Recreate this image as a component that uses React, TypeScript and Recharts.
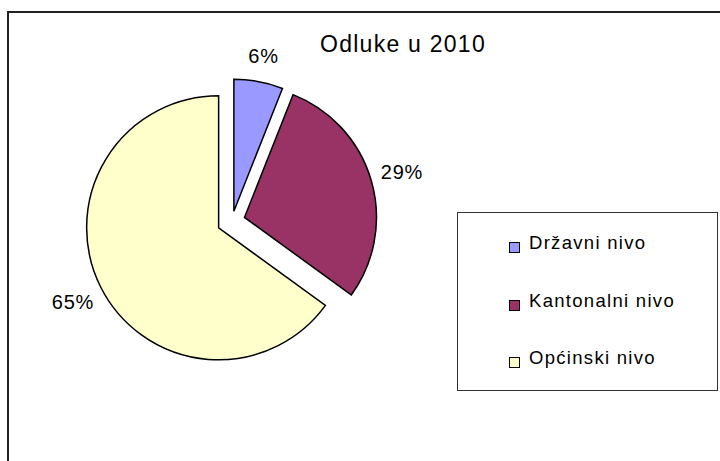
import React from 'react'
import { PieChart, Pie, Cell, Legend } from 'recharts'

const categories = ['Državni nivo', 'Kantonalni nivo', 'Općinski nivo']
const shares = [6, 29, 65]
const colors = ['#9999FF', '#993366', '#FFFFCC']
// how far each slice is pulled out of the pie (px)
const explode = [10, 13, 15]

const W = 720
const H = 461
const CX = 232
const CY = 221
const R = 132
const RADIAN = Math.PI / 180
const FONT = '"Liberation Sans", Arial, sans-serif'

const rows = categories.map((name, i) => ({ name, value: shares[i] }))
const total = shares.reduce((a, b) => a + b, 0)

// bisector of each slice, degrees clockwise from 12 o'clock
const bisector = (i: number) => {
  const before = shares.slice(0, i).reduce((a, b) => a + b, 0)
  return ((before + shares[i] / 2) / total) * 360
}

const makeLabel = (idx: number) => (p: any) => {
  if (p.index !== idx) return null
  const txt = `${Math.round(p.percent * 100)}%`
  const c = Math.cos(-p.midAngle * RADIAN)
  // push wide labels a bit further out when they sit to the side
  const r = p.outerRadius + 25 + 0.22 * txt.length * 11 * Math.abs(c)
  const x = p.cx + r * c
  const y = p.cy + r * Math.sin(-p.midAngle * RADIAN)
  return (
    <text
      x={x}
      y={y}
      textAnchor="middle"
      dominantBaseline="central"
      fontSize={20}
      fontFamily={FONT}
      fill="#000"
      style={{ letterSpacing: 0.8 }}
    >
      {txt}
    </text>
  )
}

const renderLegend = () => (
  <div
    style={{
      width: 261,
      height: 179,
      boxSizing: 'border-box',
      border: '1px solid #333',
      background: '#fff',
      position: 'relative',
      fontFamily: FONT,
    }}
  >
    {categories.map((c, i) => (
      <React.Fragment key={c}>
        <div
          style={{
            position: 'absolute',
            left: 51,
            top: 29 + i * 57.7,
            width: 11,
            height: 11,
            boxSizing: 'border-box',
            border: '1.5px solid #000',
            background: colors[i],
          }}
        />
        <div
          style={{
            position: 'absolute',
            left: 71,
            top: 20 + i * 57.7,
            fontSize: 18.5,
            lineHeight: '20px',
            letterSpacing: 1.3,
            whiteSpace: 'nowrap',
            color: '#000',
          }}
        >
          {c}
        </div>
      </React.Fragment>
    ))}
  </div>
)

export default function App() {
  return (
    <div
      style={{
        position: 'absolute',
        left: 0,
        top: 0,
        width: W,
        height: H,
        overflow: 'hidden',
        background: '#fff',
      }}
    >
      <div
        style={{
          position: 'absolute',
          left: 7,
          top: 11,
          width: 800,
          height: 600,
          border: '2px solid #222',
        }}
      />
      <div
        style={{
          position: 'absolute',
          left: 303,
          top: 32.5,
          width: 200,
          textAlign: 'center',
          fontFamily: FONT,
          fontSize: 23,
          lineHeight: '23px',
          letterSpacing: 1.25,
          color: '#000',
        }}
      >
        Odluke u 2010
      </div>
      <div style={{ position: 'absolute', left: 0, top: 0 }}>
        <PieChart width={W} height={H} margin={{ top: 0, right: 0, bottom: 0, left: 0 }}>
          {categories.map((_, k) => {
            const a = bisector(k) * RADIAN
            const cx = CX + explode[k] * Math.sin(a)
            const cy = CY - explode[k] * Math.cos(a)
            return (
              <Pie
                key={k}
                data={rows}
                dataKey="value"
                nameKey="name"
                cx={cx}
                cy={cy}
                outerRadius={R}
                startAngle={90}
                endAngle={-270}
                isAnimationActive={false}
                labelLine={false}
                label={makeLabel(k)}
                legendType={k === 0 ? 'square' : 'none'}
              >
                {rows.map((row, i) => (
                  <Cell
                    key={row.name}
                    fill={i === k ? colors[i] : 'transparent'}
                    stroke={i === k ? '#000' : 'none'}
                    strokeWidth={1.5}
                  />
                ))}
              </Pie>
            )
          })}
          <Legend
            layout="vertical"
            align="center"
            verticalAlign="middle"
            content={renderLegend}
            wrapperStyle={{ left: 457, top: 212, width: 261, height: 179 }}
          />
        </PieChart>
      </div>
    </div>
  )
}
